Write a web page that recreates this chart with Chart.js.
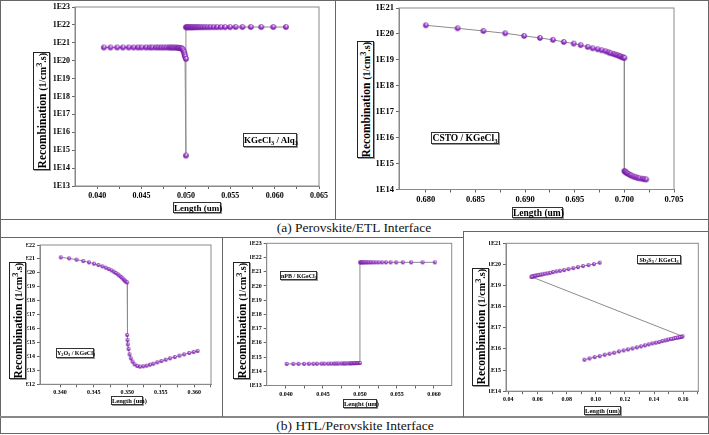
<!DOCTYPE html>
<html>
<head>
<meta charset="utf-8">
<script src="https://cdn.jsdelivr.net/npm/chart.js@4.4.0/dist/chart.umd.min.js"></script>
<style>
body { margin: 0; background: #fff; }
#fig { position: relative; width: 709px; height: 435px; overflow: hidden; font-family: "Liberation Serif", serif; }
.ln { position: absolute; background: #666; }
canvas { position: absolute; }
.cap { position: absolute; font-size: 13.5px; color: #111; white-space: nowrap; transform: translate(-50%, -50%); }
.ytl { position: absolute; border: 1px solid #222; box-shadow: 1px 1px 0 #999; background: #fff; display: flex; align-items: center; justify-content: center; z-index: 2; }
.ytl span { transform: rotate(-90deg); white-space: nowrap; font-weight: bold; font-size: 11.5px; color: #000; }
.ytl small { font-size: 10px; }
.box { position: absolute; border: 1px solid #333; box-shadow: 1px 1px 0 #999; background: #fff; font-weight: bold; white-space: nowrap; text-align: center; z-index: 2; color: #000; line-height: 1; box-sizing: border-box; padding-top: 1px; }
.box i { font-style: normal; font-size: 0.7em; position: relative; top: 0.3em; }
</style>
</head>
<body>
<div id="fig">
  <div class="ln" style="left:0;top:0;width:709px;height:1px"></div>
  <div class="ln" style="left:0;top:433px;width:709px;height:1px"></div>
  <div class="ln" style="left:0;top:0;width:1px;height:434px"></div>
  <div class="ln" style="left:708px;top:0;width:1px;height:434px"></div>
  <div class="ln" style="left:0;top:219px;width:709px;height:1px"></div>
  <div class="ln" style="left:0;top:237px;width:464px;height:1px"></div>
  <div class="ln" style="left:464px;top:231px;width:245px;height:1px"></div>
  <div class="ln" style="left:0;top:416px;width:709px;height:2px;background:#888"></div>
  <div class="ln" style="left:335px;top:0;width:1px;height:219px"></div>
  <div class="ln" style="left:222px;top:237px;width:1px;height:180px"></div>
  <div class="ln" style="left:463px;top:231px;width:1px;height:186px"></div>

  <div class="cap" style="left:354px;top:228px">(a) Perovskite/ETL Interface</div>
  <div class="cap" style="left:355px;top:426px">(b) HTL/Perovskite Interface</div>

  <canvas id="cA1"></canvas>
  <canvas id="cA2"></canvas>
  <canvas id="cB1"></canvas>
  <canvas id="cB2"></canvas>
  <canvas id="cB3"></canvas>

  <div class="ytl" style="left:33px;top:52px;width:15px;height:116px"><span>Recombination <small>(1/cm<sup>3</sup>.s)</small></span></div>
  <div class="ytl" style="left:357px;top:41px;width:15px;height:115px"><span>Recombination <small>(1/cm<sup>3</sup>.s)</small></span></div>
  <div class="ytl" style="left:9px;top:262px;width:15px;height:115px"><span>Recombination <small>(1/cm<sup>3</sup>.s)</small></span></div>
  <div class="ytl" style="left:233px;top:262px;width:15px;height:115px"><span>Recombination <small>(1/cm<sup>3</sup>.s)</small></span></div>
  <div class="ytl" style="left:472px;top:268px;width:15px;height:116px"><span>Recombination <small>(1/cm<sup>3</sup>.s)</small></span></div>

  <div class="box" style="left:173px;top:202px;width:48px;height:11px;font-size:9px">Length (um)</div>
  <div class="box" style="left:512px;top:207px;width:51px;height:11px;font-size:9.5px">Length (um)</div>
  <div class="box" style="left:111px;top:396px;width:32px;height:9px;font-size:6.5px">Length (um)</div>
  <div class="box" style="left:343px;top:399px;width:34px;height:9px;font-size:6.5px">Lenght (um)</div>
  <div class="box" style="left:584px;top:406px;width:37px;height:9px;font-size:6.5px">Length (um)</div>

  <div class="box" style="left:243px;top:133px;width:54px;height:14px;font-size:9px;padding-top:2px">KGeCl<i>3</i> / Alq<i>3</i></div>
  <div class="box" style="left:431px;top:132px;width:68px;height:12px;font-size:9.5px">CSTO / KGeCl<i>3</i></div>
  <div class="box" style="left:56px;top:348px;width:38px;height:10px;font-size:6px">Y<i>2</i>O<i>3</i> / KGeCl<i>3</i></div>
  <div class="box" style="left:280px;top:271px;width:37px;height:9px;font-size:6px">nPB / KGeCl<i>3</i></div>
  <div class="box" style="left:637px;top:255px;width:44px;height:9px;font-size:6px">Sb<i>2</i>S<i>3</i> / KGeCl<i>3</i></div>
</div>
<script>
// (a) KGeCl3 / Alq3
const lenA1 = [0.04075, 0.0415, 0.04225, 0.0429, 0.04355, 0.0441, 0.0446, 0.0450, 0.0455, 0.0459, 0.0462, 0.0466,
  0.0469, 0.0472, 0.0475, 0.0478, 0.0481, 0.0483, 0.0485, 0.0487, 0.0489, 0.0491, 0.0492, 0.0494, 0.0495,
  0.0496, 0.0497, 0.0498, 0.04985, 0.0499, 0.0500,
  0.0500,
  0.0500, 0.05012, 0.05025, 0.05038, 0.05052, 0.05067, 0.05083, 0.05100, 0.05118, 0.05138, 0.0516, 0.05185,
  0.05212, 0.05242, 0.05275, 0.05311, 0.0535, 0.05393, 0.0544, 0.05497, 0.0556, 0.05637, 0.05731, 0.05849, 0.05985, 0.06127];
const recA1 = [5.5e20, 5.5e20, 5.5e20, 5.5e20, 5.5e20, 5.5e20, 5.5e20, 5.5e20, 5.5e20, 5.5e20, 5.5e20, 5.5e20,
  5.5e20, 5.5e20, 5.5e20, 5.5e20, 5.5e20, 5.5e20, 5.45e20, 5.4e20, 5.4e20, 5.3e20, 5.2e20, 5.1e20, 4.9e20,
  4.5e20, 3.7e20, 2.9e20, 2.2e20, 1.7e20, 1.26e20,
  5.0e14,
  7.4e21, 7.4e21, 7.4e21, 7.4e21, 7.4e21, 7.4e21, 7.4e21, 7.5e21, 7.5e21, 7.5e21, 7.5e21, 7.5e21,
  7.5e21, 7.5e21, 7.5e21, 7.5e21, 7.5e21, 7.5e21, 7.5e21, 7.5e21, 7.6e21, 7.6e21, 7.6e21, 7.6e21, 7.6e21, 7.6e21];

// (a) CSTO / KGeCl3
const lenA2 = [0.6800, 0.6832, 0.6858, 0.6880, 0.6899, 0.6915, 0.6928, 0.6939, 0.6949, 0.6956, 0.6963, 0.6968,
  0.6973, 0.6977, 0.6981, 0.6984, 0.6986, 0.6989, 0.6991, 0.6993, 0.6995, 0.6996, 0.6998, 0.6999, 0.7000,
  0.7000, 0.70007, 0.70015, 0.70025, 0.7004, 0.70055, 0.7007, 0.7009, 0.7011, 0.7013, 0.7015, 0.7018, 0.7020, 0.7022];
const recA2 = [2.15e20, 1.65e20, 1.30e20, 1.06e20, 8.4e19, 7.0e19, 5.9e19, 4.9e19, 4.25e19, 3.7e19, 3.16e19, 2.8e19,
  2.57e19, 2.35e19, 2.15e19, 1.97e19, 1.8e19, 1.7e19, 1.6e19, 1.51e19, 1.43e19, 1.34e19, 1.27e19, 1.23e19, 1.19e19,
  5.2e14, 4.9e14, 4.6e14, 4.3e14, 4.0e14, 3.7e14, 3.45e14, 3.2e14, 3.0e14, 2.85e14, 2.7e14, 2.6e14, 2.5e14, 2.45e14];

// (b) Y2O3 / KGeCl3
const lenB1 = [0.3401, 0.34135, 0.34245, 0.34345, 0.3443, 0.34505, 0.3457, 0.3463, 0.3468, 0.34725, 0.34765,
  0.348, 0.3483, 0.3486, 0.34885, 0.3491, 0.3493, 0.3495, 0.34965, 0.3498, 0.3500,
  0.3500, 0.35005, 0.3501, 0.3502, 0.35035, 0.35055, 0.3508, 0.3511, 0.3515, 0.3519, 0.3524, 0.3529,
  0.3534, 0.3539, 0.3545, 0.3551, 0.35575, 0.3564, 0.3571, 0.3578, 0.3585, 0.35925, 0.3599, 0.3605];
const recB1 = [1.30e21, 1.10e21, 8.9e20, 7.1e20, 5.7e20, 4.6e20, 3.67e20, 2.94e20, 2.36e20, 1.90e20, 1.52e20,
  1.22e20, 9.8e19, 7.85e19, 6.3e19, 5.05e19, 4.05e19, 3.25e19, 2.75e19, 2.33e19, 2.09e19,
  3.47e15, 1.51e15, 7.4e14, 3.45e14, 1.42e14, 7.4e13, 4.27e13, 2.75e13, 2.09e13, 1.87e13, 1.96e13, 2.19e13,
  2.57e13, 3.0e13, 3.8e13, 4.7e13, 5.9e13, 7.4e13, 9.1e13, 1.15e14, 1.42e14, 1.78e14, 2.1e14, 2.46e14];

// (b) nPB / KGeCl3
const lenB2 = [0.0401, 0.0410, 0.0417, 0.04245, 0.0431, 0.0437, 0.0442, 0.0448, 0.0452, 0.0457, 0.0461, 0.0465,
  0.0468, 0.0471, 0.0475, 0.0478, 0.0480, 0.0483, 0.0486, 0.0488, 0.0490, 0.0492, 0.0494, 0.0496, 0.0498, 0.0500,
  0.0500, 0.05013, 0.05027, 0.0504, 0.05058, 0.05076, 0.05098, 0.0512, 0.05147, 0.05178, 0.05214, 0.05254,
  0.05299, 0.05352, 0.05414, 0.0549, 0.05579, 0.05691, 0.05847, 0.06012];
const recB2 = [3.30e14, 3.32e14, 3.34e14, 3.35e14, 3.37e14, 3.38e14, 3.40e14, 3.42e14, 3.43e14, 3.45e14, 3.47e14, 3.48e14,
  3.50e14, 3.52e14, 3.54e14, 3.56e14, 3.58e14, 3.60e14, 3.63e14, 3.66e14, 3.69e14, 3.72e14, 3.76e14, 3.80e14, 3.85e14, 3.90e14,
  4.6e21, 4.6e21, 4.6e21, 4.6e21, 4.6e21, 4.6e21, 4.6e21, 4.6e21, 4.6e21, 4.6e21, 4.6e21, 4.6e21,
  4.6e21, 4.6e21, 4.6e21, 4.6e21, 4.6e21, 4.6e21, 4.6e21, 4.6e21];

// (b) Sb2S3 / KGeCl3
const lenB3 = [0.1027, 0.0987, 0.0950, 0.0913, 0.0878, 0.0846, 0.0813, 0.0783, 0.0755, 0.0730, 0.0706, 0.0685,
  0.0667, 0.0648, 0.0632, 0.0618, 0.0604, 0.0593, 0.0583, 0.0574, 0.0567, 0.0562, 0.0558,
  0.1595, 0.1588, 0.1579, 0.1570, 0.1558, 0.1544, 0.1530, 0.1514, 0.1495, 0.1477, 0.1456, 0.1435, 0.1412,
  0.1388, 0.1363, 0.1337, 0.1310, 0.1282, 0.1252, 0.1221, 0.1191, 0.1159, 0.1126, 0.1094, 0.1061, 0.1027,
  0.0992, 0.0957, 0.0922];
const recB3 = [1.21e20, 1.04e20, 9.3e19, 8.4e19, 7.5e19, 6.7e19, 6.0e19, 5.4e19, 5.0e19, 4.7e19, 4.35e19, 4.0e19,
  3.75e19, 3.6e19, 3.37e19, 3.25e19, 3.13e19, 3.0e19, 2.9e19, 2.8e19, 2.7e19, 2.65e19, 2.6e19,
  3.95e16, 3.81e16, 3.67e16, 3.55e16, 3.42e16, 3.3e16, 3.06e16, 2.95e16, 2.75e16, 2.55e16, 2.37e16, 2.13e16, 1.98e16,
  1.84e16, 1.65e16, 1.48e16, 1.33e16, 1.19e16, 1.06e16, 9.5e15, 8.55e15, 7.66e15, 6.62e15, 5.94e15, 5.32e15, 4.6e15,
  4.12e15, 3.56e15, 3.08e15];

// tick labels
const xTicksA1 = [0.040, 0.045, 0.050, 0.055, 0.060, 0.065];
const xTicksA2 = [0.680, 0.685, 0.690, 0.695, 0.700, 0.705];
const xTicksB1 = [0.340, 0.345, 0.350, 0.355, 0.360];
const xTicksB2 = [0.040, 0.045, 0.050, 0.055, 0.060];
const xTicksB3 = [0.04, 0.06, 0.08, 0.10, 0.12, 0.14, 0.16];
const yTicksA1 = [1e13, 1e14, 1e15, 1e16, 1e17, 1e18, 1e19, 1e20, 1e21, 1e22, 1e23];
const yTicksA2 = [1e14, 1e15, 1e16, 1e17, 1e18, 1e19, 1e20, 1e21];
const yTicksB1 = [1e12, 1e13, 1e14, 1e15, 1e16, 1e17, 1e18, 1e19, 1e20, 1e21, 1e22];
const yTicksB2 = [1e13, 1e14, 1e15, 1e16, 1e17, 1e18, 1e19, 1e20, 1e21, 1e22, 1e23];
const yTicksB3 = [1e14, 1e15, 1e16, 1e17, 1e18, 1e19, 1e20, 1e21];

function ball(r) {
    const c = document.createElement('canvas');
    const s = Math.ceil(r * 2 + 2);
    c.width = c.height = s;
    const g = c.getContext('2d');
    const m = s / 2;
    const grd = g.createRadialGradient(m + r * 0.2, m - r * 0.45, r * 0.1, m, m, r);
    grd.addColorStop(0, '#f4e6ff');
    grd.addColorStop(0.4, '#b050e0');
    grd.addColorStop(1, '#65108f');
    g.fillStyle = grd;
    g.beginPath();
    g.arc(m, m, r, 0, Math.PI * 2);
    g.fill();
    return c;
}

const frame = {
    id: 'frame',
    beforeDatasetsDraw(ch) {
        const a = ch.chartArea, c = ch.ctx;
        c.save();
        c.strokeStyle = '#8a8a8a';
        c.lineWidth = 1;
        c.strokeRect(a.left, a.top, a.right - a.left, a.bottom - a.top);
        c.restore();
    }
};

function panel(id, p) {
    const cv = document.getElementById(id);
    cv.width = p.w; cv.height = p.h;
    cv.style.left = p.x + 'px'; cv.style.top = p.y + 'px';
    cv.style.width = p.w + 'px'; cv.style.height = p.h + 'px';
    const pts = p.xs.map((v, i) => ({ x: v, y: p.ys[i] }));
    const step = p.xt[1] - p.xt[0];
    const minor = p.xt.map(v => v + step / 2).filter(v => v < p.xmax);
    const font = { family: '"Liberation Serif", "Times New Roman", serif', weight: 'bold', size: p.fs };
    new Chart(cv, {
        type: 'scatter',
        data: {
            datasets: [{
                data: pts,
                showLine: true,
                borderColor: '#8c8c8c',
                borderWidth: 1,
                pointStyle: ball(p.r),
                pointRadius: p.r
            }]
        },
        options: {
            responsive: false,
            animation: false,
            layout: { padding: { left: 0, top: p.pt, right: p.pr, bottom: 0 } },
            plugins: { legend: { display: false }, tooltip: { enabled: false } },
            scales: {
                x: {
                    type: 'linear', min: p.xmin, max: p.xmax,
                    afterBuildTicks: s => {
                        s.ticks = p.xt.map(v => ({ value: v })).concat(minor.map(v => ({ value: v, minor: true })))
                            .sort((a, b) => a.value - b.value);
                    },
                    afterFit: s => { s.height = p.xh; s.paddingLeft = 0; s.paddingRight = 0; },
                    ticks: {
                        autoSkip: false, maxRotation: 0, padding: 2, color: '#000', font: font,
                        callback: (v, i, t) => t[i].minor ? '' : v.toFixed(p.dec)
                    },
                    grid: { drawOnChartArea: false, tickLength: 3, color: '#666' },
                    border: { color: '#888' }
                },
                y: {
                    type: 'logarithmic', min: p.yt[0], max: p.yt[p.yt.length - 1],
                    afterBuildTicks: s => { s.ticks = p.yt.map(v => ({ value: v })); },
                    afterFit: s => { s.width = p.yw; s.paddingTop = 0; s.paddingBottom = 0; },
                    ticks: {
                        autoSkip: false, padding: 2, color: '#000', font: font,
                        callback: v => '1E' + Math.round(Math.log10(v))
                    },
                    grid: { drawOnChartArea: false, tickLength: 3, color: '#666' },
                    border: { color: '#888' }
                }
            }
        },
        plugins: [frame]
    });
}

panel('cA1', { x: 45, y: 0, w: 290, h: 219, yw: 30, pt: 7, pr: 16, xh: 33, fs: 8, r: 2.8, dec: 3,
    xs: lenA1, ys: recA1, xt: xTicksA1, yt: yTicksA1, xmin: 0.0375, xmax: 0.065 });
panel('cA2', { x: 375, y: 0, w: 331, h: 219, yw: 24, pt: 8, pr: 32, xh: 29.5, fs: 8.5, r: 2.7, dec: 3,
    xs: lenA2, ys: recA2, xt: xTicksA2, yt: yTicksA2, xmin: 0.6773, xmax: 0.705 });
panel('cB1', { x: 26, y: 238, w: 196, h: 178, yw: 14, pt: 7, pr: 11, xh: 31.7, fs: 6, r: 1.9, dec: 3,
    xs: lenB1, ys: recB1, xt: xTicksB1, yt: yTicksB1, xmin: 0.337, xmax: 0.3625 });
panel('cB2', { x: 250, y: 238, w: 213, h: 178, yw: 16.7, pt: 5.3, pr: 11.3, xh: 30.5, fs: 6, r: 1.9, dec: 3,
    xs: lenB2, ys: recB2, xt: xTicksB2, yt: yTicksB2, xmin: 0.0374, xmax: 0.0624 });
panel('cB3', { x: 489, y: 232, w: 219, h: 184, yw: 17, pt: 11.3, pr: 9.7, xh: 24.8, fs: 6, r: 1.9, dec: 2,
    xs: lenB3, ys: recB3, xt: xTicksB3, yt: yTicksB3, xmin: 0.0384, xmax: 0.1703 });
</script>
</body>
</html>
